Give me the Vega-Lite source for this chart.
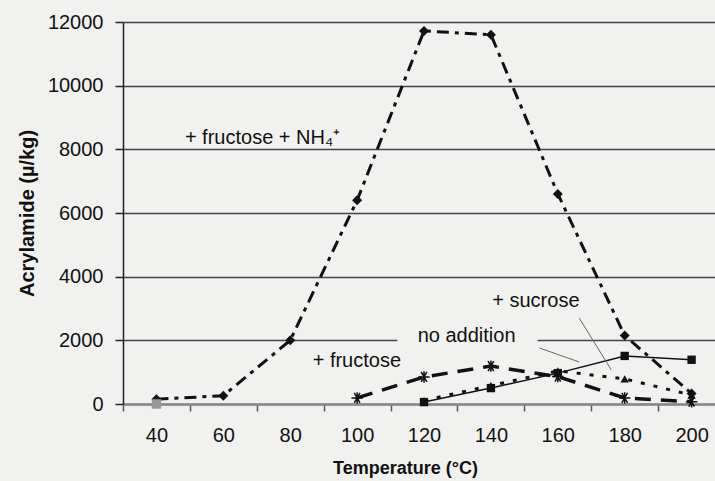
{
  "$schema": "https://vega.github.io/schema/vega-lite/v6.json",
  "width": 592,
  "height": 382,
  "autosize": "none",
  "padding": {"left": 123, "top": 22, "right": 0, "bottom": 77},
  "background": "#f1f1f0",
  "config": {
    "view": {"stroke": null},
    "font": "Liberation Sans",
    "axis": {"labelFont": "Liberation Sans", "titleFont": "Liberation Sans", "labelColor": "#111", "titleColor": "#111", "labelFontSize": 20, "titleFontWeight": "bold"}
  },
  "datasets": {
    "series": [
      {"t": 40, "v": 150, "s": "nh4"},
      {"t": 60, "v": 260, "s": "nh4"},
      {"t": 80, "v": 2000, "s": "nh4"},
      {"t": 100, "v": 6400, "s": "nh4"},
      {"t": 120, "v": 11720, "s": "nh4"},
      {"t": 140, "v": 11600, "s": "nh4"},
      {"t": 160, "v": 6600, "s": "nh4"},
      {"t": 180, "v": 2150, "s": "nh4"},
      {"t": 200, "v": 330, "s": "nh4"},
      {"t": 100, "v": 190, "s": "fructose"},
      {"t": 120, "v": 850, "s": "fructose"},
      {"t": 140, "v": 1190, "s": "fructose"},
      {"t": 160, "v": 860, "s": "fructose"},
      {"t": 180, "v": 190, "s": "fructose"},
      {"t": 200, "v": 70, "s": "fructose"},
      {"t": 120, "v": 60, "s": "none"},
      {"t": 140, "v": 500, "s": "none"},
      {"t": 160, "v": 970, "s": "none"},
      {"t": 180, "v": 1510, "s": "none"},
      {"t": 200, "v": 1390, "s": "none"},
      {"t": 120, "v": 110, "s": "sucrose"},
      {"t": 140, "v": 580, "s": "sucrose"},
      {"t": 160, "v": 1040, "s": "sucrose"},
      {"t": 180, "v": 790, "s": "sucrose"},
      {"t": 200, "v": 280, "s": "sucrose"}
    ],
    "extra": [
      {"t": 40, "v": 0}
    ],
    "labels": [
      {"t": 48.5, "v": 8350, "txt": "+ fructose + NH₄⁺"},
      {"t": 140.4, "v": 3240, "txt": "+ sucrose"},
      {"t": 118.1, "v": 2140, "txt": "no addition"},
      {"t": 86.7, "v": 1350, "txt": "+ fructose"}
    ],
    "leaders": [
      {"t": 166.4, "v": 2700, "t2": 176, "v2": 1070},
      {"t": 154.5, "v": 1760, "t2": 166.4, "v2": 1320}
    ],
    "box": [
      {"t": 112, "t2": 154, "v": 1800, "v2": 2480}
    ]
  },
  "encoding": {
    "x": {
      "field": "t", "type": "quantitative",
      "scale": {"domain": [30, 207], "nice": false, "zero": false},
      "axis": {
        "values": [30, 40, 50, 60, 70, 80, 90, 100, 110, 120, 130, 140, 150, 160, 170, 180, 190, 200],
        "labelExpr": "datum.value % 20 == 0 ? datum.label : ''",
        "tickOpacity": {"condition": {"test": "datum.value % 20 == 10", "value": 1}, "value": 0},
        "tickColor": "#555", "tickSize": 7, "tickWidth": 1.5,
        "domainColor": "#888", "domainWidth": 2.5,
        "grid": false, "labelPadding": 14,
        "title": "Temperature (°C)", "titleFontSize": 18, "titlePadding": 14, "titleX": 282
      }
    },
    "y": {
      "field": "v", "type": "quantitative",
      "scale": {"domain": [0, 12000], "nice": false},
      "axis": {
        "values": [0, 2000, 4000, 6000, 8000, 10000, 12000],
        "format": "d",
        "grid": true, "gridColor": "#444", "gridWidth": 1.5,
        "domainColor": "#222", "domainWidth": 1.5,
        "tickColor": "#222", "tickSize": 8, "tickWidth": 1.5,
        "labelPadding": 12,
        "title": "Acrylamide (µ/kg)", "titleFontSize": 20, "titlePadding": 10
      }
    }
  },
  "layer": [
    {
      "data": {"name": "box"},
      "mark": {"type": "rect", "fill": "#f1f1f0"},
      "encoding": {"x2": {"field": "t2"}, "y2": {"field": "v2"}}
    },
    {
      "data": {"name": "series"},
      "transform": [{"filter": "datum.s == 'nh4'"}],
      "mark": {"type": "line", "color": "#111", "strokeWidth": 3, "strokeDash": [12, 6, 4, 6]}
    },
    {
      "data": {"name": "series"},
      "transform": [{"filter": "datum.s == 'fructose'"}],
      "mark": {"type": "line", "color": "#111", "strokeWidth": 3.5, "strokeDash": [16, 10]}
    },
    {
      "data": {"name": "series"},
      "transform": [{"filter": "datum.s == 'sucrose'"}],
      "mark": {"type": "line", "color": "#111", "strokeWidth": 3, "strokeDash": [4, 9]}
    },
    {
      "data": {"name": "series"},
      "transform": [{"filter": "datum.s == 'none'"}],
      "mark": {"type": "line", "color": "#111", "strokeWidth": 1.5}
    },
    {
      "data": {"name": "series"},
      "transform": [{"filter": "datum.s == 'nh4'"}],
      "mark": {"type": "point", "shape": "diamond", "filled": true, "color": "#111", "size": 100, "opacity": 1}
    },
    {
      "data": {"name": "series"},
      "transform": [{"filter": "datum.s == 'fructose'"}],
      "mark": {"type": "point", "shape": "M-1,0L1,0M-0.5,-0.87L0.5,0.87M-0.5,0.87L0.5,-0.87M0,-1L0,1", "filled": false, "color": "#111", "strokeWidth": 1.5, "size": 130, "opacity": 1}
    },
    {
      "data": {"name": "series"},
      "transform": [{"filter": "datum.s == 'sucrose'"}],
      "mark": {"type": "point", "shape": "triangle-up", "filled": true, "color": "#111", "size": 70, "opacity": 1}
    },
    {
      "data": {"name": "series"},
      "transform": [{"filter": "datum.s == 'none'"}],
      "mark": {"type": "point", "shape": "square", "filled": true, "color": "#111", "size": 70, "opacity": 1}
    },
    {
      "data": {"name": "extra"},
      "mark": {"type": "point", "shape": "square", "filled": true, "color": "#999", "size": 90, "opacity": 1}
    },
    {
      "data": {"name": "leaders"},
      "mark": {"type": "rule", "color": "#666", "strokeWidth": 1},
      "encoding": {"x2": {"field": "t2"}, "y2": {"field": "v2"}}
    },
    {
      "data": {"name": "labels"},
      "mark": {"type": "text", "align": "left", "baseline": "middle", "fontSize": 20, "font": "Liberation Sans", "color": "#111"},
      "encoding": {"text": {"field": "txt"}}
    }
  ]
}
